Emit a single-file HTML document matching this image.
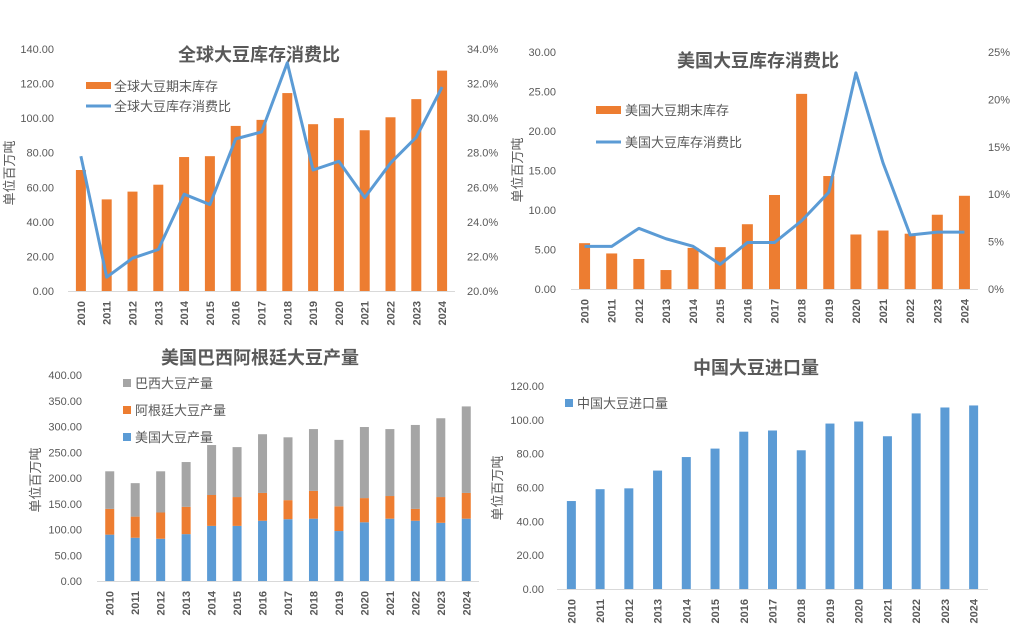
<!DOCTYPE html>
<html><head><meta charset="utf-8">
<style>
html,body{margin:0;padding:0;background:#fff;}
svg{display:block;font-family:"Liberation Sans","Noto Sans CJK SC",sans-serif;}
</style></head>
<body>
<svg id="root" width="1017" height="637" viewBox="0 0 1017 637" xmlns="http://www.w3.org/2000/svg"></svg>
<script>
const years = ['2010','2011','2012','2013','2014','2015','2016','2017','2018','2019','2020','2021','2022','2023','2024'];
// Chart 1: global
const globalStocks = [70,53,57.5,61.5,77.5,78,95.5,99,114.5,96.5,100,93,100.5,111,127.5];
const globalRatio = [27.8,20.8,21.9,22.4,25.6,25.0,28.8,29.2,33.2,27.0,27.5,25.4,27.4,28.9,31.8];
const globalLeftTicks = ['0.00','20.00','40.00','60.00','80.00','100.00','120.00','140.00'];
const globalRightTicks = ['20.0%','22.0%','24.0%','26.0%','28.0%','30.0%','32.0%','34.0%'];
// Chart 2: US
const usStocks = [5.8,4.5,3.8,2.4,5.2,5.3,8.2,11.9,24.7,14.3,6.9,7.4,7.0,9.4,11.8];
const usRatio = [4.5,4.5,6.4,5.3,4.5,2.6,4.9,4.9,7.2,10.2,22.8,13.3,5.7,6.0,6.0];
const usLeftTicks = ['0.00','5.00','10.00','15.00','20.00','25.00','30.00'];
const usRightTicks = ['0%','5%','10%','15%','20%','25%'];
// Chart 3: production
const usProd = [90,84,82,91,107,107,117,120,121,97,114,121,117,113,121];
const argProd = [50,41,51,53,60,56,54,37,54,48,47,44,23,50,50];
const brProd = [73,65,80,87,97,97,114,122,120,129,138,130,163,153,168];
const prodTicks = ['0.00','50.00','100.00','150.00','200.00','250.00','300.00','350.00','400.00'];
// Chart 4: China imports
const cnImports = [52,59,59.5,70,78,83,93,93.7,82,97.8,99,90.3,103.8,107.3,108.5];
const cnTicks = ['0.00','20.00','40.00','60.00','80.00','100.00','120.00'];

const NS='http://www.w3.org/2000/svg';
const root=document.getElementById('root');
const ORANGE='#ED7D31', BLUE='#5B9BD5', GRAY='#A5A5A5', TXT='#595959';
function el(tag,attrs,parent,text){const e=document.createElementNS(NS,tag);for(const k in attrs)e.setAttribute(k,attrs[k]);if(text!==undefined)e.textContent=text;(parent||root).appendChild(e);return e;}

function makeChart(c){
  const g=el('g',{},root);
  
  
  const step=(c.x1-c.x0)/years.length;
  const xc=i=>c.x0+step*(i+0.5);
  const yL=v=>c.yb-(v-c.lmin)/(c.lmax-c.lmin)*(c.yb-c.yt);
  // title
  const t=el('text',{x:c.tx,y:c.ty,'text-anchor':'middle','font-size':18,'font-weight':'bold',fill:TXT},g,c.title);
  
  
  // left ticks
  c.lticks.forEach((s,i)=>{const v=c.lmin+i*(c.lmax-c.lmin)/(c.lticks.length-1);
    const e=el('text',{x:c.lx,y:yL(v)+4,'text-anchor':'end','font-size':11,fill:TXT},g,s);
    
    });
  if(c.rticks){c.rticks.forEach((s,i)=>{const y=c.yb-i*(c.yb-c.yt)/(c.rticks.length-1);
    const e=el('text',{x:c.rx,y:y+4,'font-size':11,fill:TXT},g,s);
    
    });}
  // y title
  const yt=el('text',{transform:`translate(${c.ytx},${c.yty}) rotate(-90)`,'text-anchor':'middle','font-size':13,fill:TXT},g,'单位百万吨');
  
  
  // bars
  c.series.forEach(s=>{
    s.vals.forEach((v,i)=>{const base=s.base?s.base[i]:0;
      const r=el('rect',{x:xc(i)-c.bw/2,y:yL(base+v),width:c.bw,height:yL(base)-yL(base+v),fill:s.color},g);
      
      });
  });
  // axis line
  const ax=el('line',{x1:c.x0,x2:c.x1,y1:c.yb+0.5,y2:c.yb+0.5,stroke:'#D9D9D9','stroke-width':1},g);
  
  
  // line
  if(c.line){const yR=v=>c.yb-(v-c.rmin)/(c.rmax-c.rmin)*(c.yb-c.yt);
    const p=el('polyline',{points:c.line.map((v,i)=>xc(i)+','+yR(v)).join(' '),fill:'none',stroke:BLUE,'stroke-width':3,'stroke-linejoin':'round'},g);
    
    }
  // x labels
  years.forEach((y,i)=>{const e=el('text',{transform:`translate(${xc(i)+4},${c.yb+10}) rotate(-90)`,'text-anchor':'end','font-size':11,'font-weight':'bold',fill:TXT},g,y);
    
    });
  // legend
  c.legend.forEach(L=>{
    const lg=el('g',{},g);
    
    
    if(L.type==='bar') el('rect',{x:L.x,y:L.y-4,width:L.w,height:L.h,fill:L.color},lg);
    else if(L.type==='sq') el('rect',{x:L.x,y:L.y-4,width:8,height:8,fill:L.color},lg);
    else el('line',{x1:L.x,x2:L.x+L.w,y1:L.y,y2:L.y,stroke:L.color,'stroke-width':3},lg);
    el('text',{x:L.tx,y:L.y+5,'font-size':13,fill:TXT},lg,L.text);
  });
}

makeChart({name:'global-stocks-chart',title:'全球大豆库存消费比',tx:259,ty:61,x0:68,x1:455,yt:49,yb:291,lmin:0,lmax:140,lticks:globalLeftTicks,lx:54,
  rticks:globalRightTicks,rx:467,rmin:20,rmax:34,line:globalRatio,ytx:14,yty:173,bw:10,
  series:[{key:'global-stocks',vals:globalStocks,color:ORANGE}],
  legend:[{type:'bar',x:86,y:86,w:25,h:7,color:ORANGE,tx:114,text:'全球大豆期末库存'},{type:'line',x:86,y:106,w:25,color:BLUE,tx:114,text:'全球大豆库存消费比'}]});

makeChart({name:'us-stocks-chart',title:'美国大豆库存消费比',tx:758,ty:67,x0:571,x1:978,yt:52,yb:289,lmin:0,lmax:30,lticks:usLeftTicks,lx:556,
  rticks:usRightTicks,rx:988,rmin:0,rmax:25,line:usRatio,ytx:522,yty:170,bw:11,
  series:[{key:'us-stocks',vals:usStocks,color:ORANGE}],
  legend:[{type:'bar',x:596,y:110,w:25,h:8,color:ORANGE,tx:625,text:'美国大豆期末库存'},{type:'line',x:596,y:142,w:25,color:BLUE,tx:625,text:'美国大豆库存消费比'}]});

const usTop=usProd.map((v,i)=>v+argProd[i]);
makeChart({name:'production-chart',title:'美国巴西阿根廷大豆产量',tx:260,ty:364,x0:97,x1:479,yt:375,yb:581,lmin:0,lmax:400,lticks:prodTicks,lx:82,
  ytx:40,yty:480,bw:9,
  series:[{key:'us-prod',vals:usProd,color:BLUE},{key:'arg-prod',vals:argProd,base:usProd,color:ORANGE},{key:'br-prod',vals:brProd,base:usTop,color:GRAY}],
  legend:[{type:'sq',x:123,y:383,color:GRAY,tx:135,text:'巴西大豆产量'},{type:'sq',x:123,y:410,color:ORANGE,tx:135,text:'阿根廷大豆产量'},{type:'sq',x:123,y:437,color:BLUE,tx:135,text:'美国大豆产量'}]});

makeChart({name:'china-imports-chart',title:'中国大豆进口量',tx:756,ty:374,x0:557,x1:988,yt:386,yb:589,lmin:0,lmax:120,lticks:cnTicks,lx:544,
  ytx:502,yty:488,bw:9,
  series:[{key:'cn-imports',vals:cnImports,color:BLUE}],
  legend:[{type:'sq',x:565,y:403,color:BLUE,tx:577,text:'中国大豆进口量'}]});
</script>
</body></html>
